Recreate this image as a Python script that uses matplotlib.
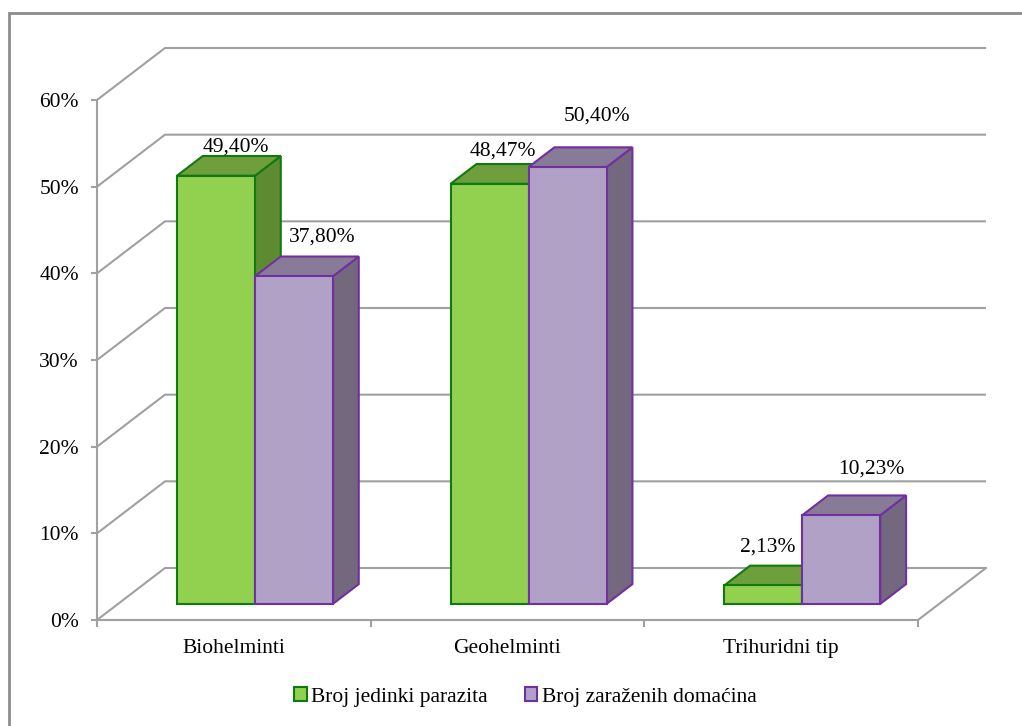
import matplotlib
matplotlib.use("Agg")
import matplotlib.pyplot as plt
from matplotlib.patches import Polygon, Patch, Rectangle

# --- data -------------------------------------------------------------
categories = ["Biohelminti", "Geohelminti", "Trihuridni tip"]
series_names = ["Broj jedinki parazita", "Broj zaraženih domaćina"]
jedinki = [49.40, 48.47, 2.13]
domacini = [37.80, 50.40, 10.23]
y_ticks = [0, 10, 20, 30, 40, 50, 60]

# --- layout / style ---------------------------------------------------
plt.rcParams["font.family"] = ["Liberation Serif", "DejaVu Serif"]
FS = 15.5
GRID = "#a0a0a0"
face_cols = [("#92d050", "#6f9e3c", "#5e8a31", "#0f7a0f"),
             ("#b2a1c7", "#887b98", "#74687f", "#7030a0")]
# value-label nudges (pixels) from the back-top centre of each bar
label_nudge = [[(-6, 9), (2, 19)],
               [(-13, 13), (4, 31)],
               [(-21, 19), (4, 26)]]

fig = plt.figure(figsize=(10.22, 7.26), dpi=100)
ax = fig.add_axes([97 / 1022, 1 - 620 / 726, 821 / 1022, 520 / 726])
ax.set_xlim(-0.5, len(categories) - 0.5)
ax.set_ylim(0, 60)

# oblique depth direction expressed in data units (full depth = 1)
DX = 0.2485
DY = 6.0


def proj(x, y, d):
    return (x + DX * d, y + DY * d)


# walls: back gridlines and left-wall diagonals
x_lo, x_hi = ax.get_xlim()
for t in y_ticks:
    p0 = proj(x_lo, t, 0)
    p1 = proj(x_lo, t, 1)
    p2 = proj(x_hi, t, 1)
    ax.plot([p0[0], p1[0], p2[0]], [p0[1], p1[1], p2[1]], color=GRID,
            lw=1.5, clip_on=False, solid_capstyle="butt", zorder=1)
# right edge of the floor
f0 = proj(x_hi, 0, 0)
f1 = proj(x_hi, 0, 1)
ax.plot([f0[0], f1[0]], [f0[1], f1[1]], color=GRID, lw=1.5, clip_on=False, zorder=1)

# bars
bar_w = 0.285
D0, D1 = 0.31, 0.69
for i, cat in enumerate(categories):
    for s, vals in enumerate([jedinki, domacini]):
        v = vals[i]
        x0 = i - bar_w + s * bar_w
        x1 = x0 + bar_w
        front, top, side, edge = face_cols[s]
        side_poly = [proj(x1, 0, D0), proj(x1, 0, D1), proj(x1, v, D1), proj(x1, v, D0)]
        top_poly = [proj(x0, v, D0), proj(x1, v, D0), proj(x1, v, D1), proj(x0, v, D1)]
        front_poly = [proj(x0, 0, D0), proj(x1, 0, D0), proj(x1, v, D0), proj(x0, v, D0)]
        for poly, col in ((side_poly, side), (top_poly, top), (front_poly, front)):
            ax.add_patch(Polygon(poly, closed=True, facecolor=col, edgecolor=edge,
                                 lw=1.5, joinstyle="miter", clip_on=False, zorder=3))
        lx, ly = proj(x0 + bar_w / 2, v, D1)
        ax.annotate(f"{v:.2f}".replace(".", ",") + "%", (lx, ly),
                    xytext=label_nudge[i][s], textcoords="offset pixels",
                    ha="center", va="center", fontsize=FS, zorder=5,
                    annotation_clip=False)

# axes
for side in ("top", "right"):
    ax.spines[side].set_visible(False)
for side in ("left", "bottom"):
    ax.spines[side].set_color(GRID)
    ax.spines[side].set_linewidth(1.5)
ax.set_facecolor("none")
ax.set_yticks(y_ticks)
ax.set_yticklabels([f"{t}%" for t in y_ticks], fontsize=FS)
ax.tick_params(axis="y", length=4, width=1.5, color=GRID, pad=9)
ax.set_xticks(range(len(categories)))
ax.set_xticklabels(categories, fontsize=FS)
ax.set_xticks([k - 0.5 for k in range(len(categories) + 1)], minor=True)
ax.tick_params(axis="x", which="major", length=0, pad=14)
ax.tick_params(axis="x", which="minor", length=5, width=1.5, color=GRID)

# legend
handles = [Patch(facecolor=face_cols[k][0], edgecolor=face_cols[k][3], lw=1.5)
           for k in range(2)]
fig.legend(handles, series_names, loc="center", bbox_to_anchor=(0.514, 0.040),
           ncol=2, frameon=False, fontsize=FS, handlelength=0.6, handleheight=0.6,
           handletextpad=0.2, columnspacing=1.7)

# chart area border
fig.patches.append(Rectangle((9 / 1022, -0.1), 1.2, 1.1 - 13 / 726, transform=fig.transFigure,
                             fill=False, edgecolor="#8c8c8c", lw=2, zorder=0))

fig.savefig("out.png", dpi=100)
